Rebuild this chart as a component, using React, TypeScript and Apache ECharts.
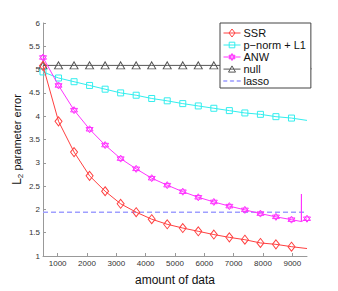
import React, { useEffect, useRef } from "react";
import * as echarts from "echarts";

const dataX = [500, 1029, 1559, 2088, 2618, 3147, 3676, 4206, 4735, 5265, 5794, 6324, 6853, 7382, 7912, 8441, 8971, 9500];
const ssr = [5.08, 3.89, 3.23, 2.72, 2.39, 2.12, 1.94, 1.79, 1.68, 1.60, 1.53, 1.46, 1.40, 1.35, 1.28, 1.25, 1.20, 1.16];
const pnorm = [4.95, 4.82, 4.74, 4.66, 4.58, 4.50, 4.45, 4.38, 4.33, 4.27, 4.22, 4.17, 4.12, 4.07, 4.04, 3.99, 3.96, 3.91];
const anw = [5.26, 4.66, 4.13, 3.72, 3.38, 3.09, 2.87, 2.67, 2.52, 2.38, 2.26, 2.16, 2.07, 1.99, 1.91, 1.84, 1.78, 1.80];
// glitch near the end of the ANW curve: [x, y]
const anwGlitch = [[9305, 1.74], [9310, 2.33], [9314, 1.74]];
const nullVal = 5.09;
const lassoVal = 1.94;
const xTicks = [1000, 2000, 3000, 4000, 5000, 6000, 7000, 8000, 9000];
const names = ["SSR", "p\u2212norm + L1", "ANW", "null", "lasso"];

const hexagram = "path://M0,-10 L8.66,5 L-8.66,5 Z M0,10 L8.66,-5 L-8.66,-5 Z";
const legendIcons = [
  "path://M0,4 L17,4 M8.5,0 L11.5,4 L8.5,8 L5.5,4 Z",
  "path://M0,4 L17,4 M5.7,1.2 L11.3,1.2 L11.3,6.8 L5.7,6.8 Z",
  "path://M0,4 L17,4 M8.5,0.5 L11.53,5.75 L5.47,5.75 Z M8.5,7.5 L11.53,2.25 L5.47,2.25 Z",
  "path://M0,4 L17,4 M8.5,0.8 L12,7 L5,7 Z",
  "path://M0,3.8 L3.5,3.8 L3.5,4.2 L0,4.2 Z M6.5,3.8 L10,3.8 L10,4.2 L6.5,4.2 Z M13,3.8 L16.5,3.8 L16.5,4.2 L13,4.2 Z",
];
const FONT = "Liberation Sans";

export default function App() {
  const ref = useRef<HTMLDivElement>(null);
  useEffect(() => {
    const chart = echarts.init(ref.current!, null, { renderer: "svg" });
    const clear = "rgba(255,255,255,0)";
    const hollow = (c: string) => ({ color: clear, borderColor: c, borderWidth: 1 });
    const ssrData: any[] = dataX.map((x, i) => (i === dataX.length - 1 ? { value: [x, ssr[i]], symbol: "none" } : [x, ssr[i]]));
    const pData: any[] = dataX.map((x, i) => (i === dataX.length - 1 ? { value: [x, pnorm[i]], symbol: "none" } : [x, pnorm[i]]));
    const anwData: any[] = [];
    dataX.forEach((x, i) => {
      if (i === dataX.length - 1) {
        anwGlitch.forEach((p) => anwData.push({ value: p, symbol: "none" }));
      }
      anwData.push([x, anw[i]]);
    });
    const nullData = dataX.map((x) => [x, nullVal]);
    const lassoData = [[dataX[0], lassoVal], [dataX[dataX.length - 1], lassoVal]];
    const cSSR = "#ff4040";
    const cP = "#33eeee";
    const cA = "#ff33ff";
    const cN = "#555555";
    const cL = "#9f9fff";
    chart.setOption({
      animation: false,
      textStyle: { fontFamily: FONT },
      grid: { left: 43, right: 31, top: 23, bottom: 33 },
      legend: {
        data: names.map((n, i) => ({ name: n, icon: legendIcons[i] })),
        orient: "vertical",
        left: 220,
        top: 23,
        backgroundColor: "#fff",
        borderColor: "#444",
        borderWidth: 1,
        borderRadius: 0,
        padding: [4, 5, 1, 3],
        itemGap: 0,
        itemWidth: 17,
        itemHeight: 8,
        symbolKeepAspect: true,
        itemStyle: { color: clear, borderColor: "inherit", borderWidth: 1 },
        textStyle: { fontFamily: FONT, fontSize: 11, color: "#111", lineHeight: 12, padding: [0, 0, 0, -2] },
      },
      xAxis: {
        type: "value",
        min: 500,
        max: 9500,
        name: "amount of data",
        nameLocation: "middle",
        nameGap: 18,
        nameTextStyle: { fontFamily: FONT, fontSize: 12, color: "#111" },
        axisLine: { lineStyle: { color: "#999" } },
        axisTick: { inside: true, length: 3, lineStyle: { color: "#999" }, customValues: xTicks },
        axisLabel: { fontSize: 8, color: "#333", margin: 3, customValues: xTicks, formatter: (v: number) => String(v) },
        splitLine: { show: false },
      },
      yAxis: {
        type: "value",
        min: 1,
        max: 6,
        interval: 0.5,
        name: "{L|L}{s|2}{n| parameter error}",
        nameLocation: "middle",
        nameGap: 19,
        nameMoveOverlap: false,
        nameTextStyle: {
          fontFamily: FONT,
          color: "#111",
          rich: {
            L: { fontSize: 12, fontFamily: FONT, color: "#111" },
            s: { fontSize: 8, fontFamily: FONT, color: "#111", verticalAlign: "bottom", padding: [6, 0, 0, 0] },
            n: { fontSize: 11, fontFamily: FONT, color: "#111" },
          },
        },
        axisLine: { show: true, lineStyle: { color: "#999" } },
        axisTick: { show: true, inside: true, length: 3, lineStyle: { color: "#999" } },
        axisLabel: { fontSize: 8, color: "#333", margin: 3 },
        splitLine: { show: false },
      },
      series: [
        {
          name: names[0], type: "line", data: ssrData, symbol: "diamond", symbolSize: [7, 9],
          lineStyle: { color: cSSR, width: 1 }, itemStyle: hollow(cSSR), z: 5,
        },
        {
          name: names[1], type: "line", data: pData, symbol: "rect", symbolSize: 6,
          lineStyle: { color: cP, width: 1 }, itemStyle: hollow(cP), z: 3,
        },
        {
          name: names[2], type: "line", data: anwData, symbol: hexagram, symbolSize: 7,
          lineStyle: { color: cA, width: 1 }, itemStyle: hollow(cA), z: 4,
        },
        {
          name: names[3], type: "line", data: nullData, symbol: "triangle", symbolSize: [8, 7],
          lineStyle: { color: cN, width: 1 }, itemStyle: hollow(cN), z: 2,
        },
        {
          name: names[4], type: "line", data: lassoData, symbol: "circle", showSymbol: false,
          lineStyle: { color: cL, width: 1.5, type: [5, 3] }, itemStyle: hollow(cL), z: 1,
        },
      ],
    });
    return () => chart.dispose();
  }, []);
  return <div ref={ref} style={{ width: 338, height: 291, position: "absolute", left: 0, top: 0 }} />;
}
